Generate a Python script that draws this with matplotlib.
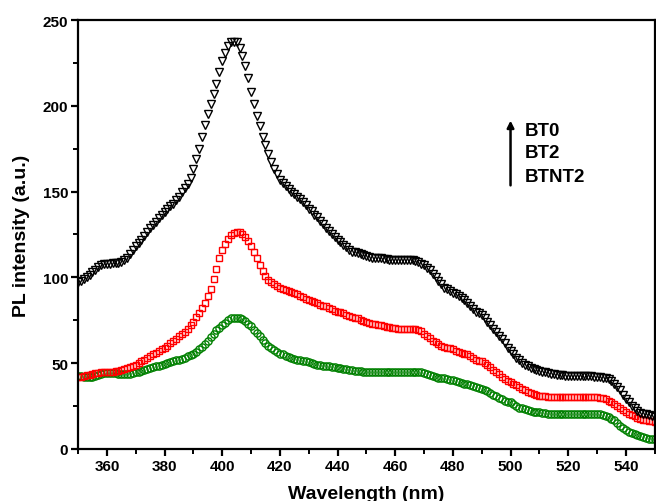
import numpy as np
import matplotlib.pyplot as plt
from matplotlib.ticker import MultipleLocator

plt.rcParams['font.family'] = ['Liberation Sans', 'DejaVu Sans']
plt.rcParams['font.weight'] = 'bold'

# wavelength axis, 1 nm step
wavelength = np.arange(350, 551)

# BT0 (black, down triangles)
bt0 = [97.5, 98, 99, 100, 101.5, 103, 104.5, 106, 107, 107.5,
       108, 108, 108.5, 108.5, 108.5, 109, 110, 111.5, 113.5, 116,
       118, 120, 122, 124, 126.5, 128.5, 130.5, 132.5, 134.5, 136.5,
       138, 140, 141.5, 143, 145, 147, 149.5, 152, 154.5, 158,
       163, 169, 175, 182, 189, 195, 201, 207, 213, 220,
       226, 231, 235, 237, 237.5, 237, 234, 229, 223, 216,
       208, 201, 194, 188, 182, 177, 172, 167, 163, 160,
       157, 155, 153, 151.5, 150, 148.5, 147, 145.5, 144, 142,
       140, 138.5, 136.5, 135, 133, 131, 129, 127, 125, 123.5,
       122, 120.5, 119, 117.5, 116, 115, 114.5, 114, 113.5, 113,
       112.5, 112, 111.5, 111.5, 111, 111, 110.5, 110.5, 110, 110,
       110, 110, 110, 110, 110, 110, 110, 109.5, 109, 108,
       107, 105.5, 104, 102, 100, 98, 96, 94, 93, 92,
       91, 90, 89, 88, 86.5, 85, 83, 81.5, 80, 79,
       78, 76, 74, 72, 70, 68, 66, 64, 61.5, 59,
       57, 55, 53, 51.5, 50, 49, 48, 47, 46.5, 46,
       45.5, 45, 44.5, 44, 43.5, 43.5, 43, 43, 43, 42.5,
       42.5, 42.5, 42.5, 42.5, 42.5, 42.5, 42.5, 42.5, 42.5, 42,
       42, 42, 41.5, 41, 40.5, 39.5, 38, 36, 34, 31.5,
       29, 27, 25, 23.5, 22, 21, 20.5, 20, 19.5, 19,
       18.5]

# BT2 (red, squares)
bt2 = [42, 42, 42.5, 43, 43, 43.5, 44, 44, 44.5, 44.5,
       45, 45, 45, 45.5, 45.5, 46, 46.5, 47, 47.5, 48,
       49, 50, 51, 52, 53, 54, 55, 56, 57, 58,
       59, 60, 61.5, 63, 64, 65.5, 67, 68, 70, 72,
       74, 77, 79, 82, 85, 89, 93, 99, 105, 111,
       116, 119.5, 122.5, 124.5, 126, 126.5, 126.5, 125.5, 123.5, 121,
       118, 114.5, 111, 107, 103.5, 100.5, 98.5, 97, 96, 95,
       94, 93, 92.5, 92, 91.5, 91, 90, 89, 88.5, 87.5,
       87, 86, 85.5, 85, 84, 83.5, 83, 82, 81.5, 80.5,
       80, 79.5, 79, 78, 77.5, 77, 76.5, 76, 75, 74.5,
       74, 73.5, 73, 72.5, 72, 72, 71.5, 71, 71, 70.5,
       70.5, 70, 70, 70, 70, 70, 70, 70, 69.5, 68.5,
       67, 66, 64.5, 63, 62, 61, 60, 59.5, 59, 58.5,
       58, 57, 56.5, 56, 55.5, 55, 54, 53, 52, 51,
       51, 50, 49, 47.5, 46, 45, 43.5, 42, 40.5, 39.5,
       39, 38, 37, 36, 35, 34, 33, 32.5, 32, 31.5,
       31, 30.5, 30.5, 30, 30, 30, 30, 30, 30, 30,
       30, 30, 30, 30, 30, 30, 30, 30, 30, 30,
       30, 29.5, 29.5, 29, 28, 27, 26, 25, 23.5, 22.5,
       21.5, 20.5, 19.5, 19, 18, 17.5, 17, 16.5, 16, 16,
       15.5]

# BTNT2 (green, circles)
btnt2 = [42.5, 42.5, 42, 42, 42, 42, 42.5, 43, 43.5, 44,
         44, 44, 44, 44, 43.5, 43.5, 43.5, 43.5, 43.5, 44,
         44.5, 45, 45.5, 46, 46.5, 47, 47.5, 48, 48.5, 49,
         49.5, 50, 50.5, 51, 51.5, 52, 52.5, 53, 54, 54.5,
         55.5, 56.5, 58, 59.5, 61, 63, 65, 67, 69, 70.5,
         72, 73.5, 75, 76, 76.5, 76.5, 76, 75.5, 74.5, 73,
         71.5, 69.5, 67.5, 65.5, 63.5, 61.5, 60, 58.5, 57.5, 56.5,
         55.5, 55, 54, 53.5, 53, 52.5, 52, 51.5, 51, 51,
         50.5, 50, 49.5, 49, 49, 48.5, 48, 48, 47.5, 47.5,
         47, 47, 46.5, 46.5, 46, 46, 45.5, 45.5, 45.5, 45,
         45, 45, 45, 44.5, 44.5, 44.5, 44.5, 44.5, 44.5, 44.5,
         44.5, 44.5, 44.5, 45, 45, 45, 45, 45, 44.5, 44.5,
         44, 43.5, 43, 42.5, 42, 41.5, 41, 41, 40.5, 40,
         40, 39.5, 39, 38.5, 38, 37.5, 37, 36.5, 36, 35.5,
         35, 34, 33.5, 32.5, 31.5, 30.5, 29.5, 29, 28, 27,
         27, 26, 25, 24, 23.5, 23, 22.5, 22, 21.5, 21.5,
         21.5, 21, 21, 20.5, 20.5, 20.5, 20, 20, 20, 20,
         20, 20, 20, 20, 20, 20, 20, 20, 20, 20,
         20, 20, 19.5, 19, 18.5, 17.5, 16.5, 15, 13.5, 12,
         11, 10, 9.5, 8.5, 8, 7.5, 7, 6.5, 6, 6,
         5.8]

fig = plt.figure(figsize=(6.56, 5.02), dpi=100)
ax = fig.add_axes([0.119, 0.104, 0.879, 0.854])

ax.plot(wavelength, btnt2, ls='none', marker='o', ms=5.2, mfc='none',
        mec='green', mew=1.0)
ax.plot(wavelength, bt2, ls='none', marker='s', ms=5, mfc='none',
        mec='red', mew=1.0)
ax.plot(wavelength, bt0, ls='none', marker='v', ms=5.5, mfc='none',
        mec='black', mew=1.0)

ax.set_xlim(350, 550)
ax.set_ylim(0, 250)
ax.xaxis.set_major_locator(MultipleLocator(20))
ax.xaxis.set_minor_locator(MultipleLocator(10))
ax.yaxis.set_major_locator(MultipleLocator(50))
ax.yaxis.set_minor_locator(MultipleLocator(25))

for s in ax.spines.values():
    s.set_linewidth(1.6)
ax.tick_params(which='major', direction='out', length=5, width=1.6,
               labelsize=11, pad=2, top=False, right=False)
ax.tick_params(which='minor', direction='out', length=3.5, width=1.4,
               top=False, right=False)
ax.set_xticks([360, 380, 400, 420, 440, 460, 480, 500, 520, 540])
for lab in ax.get_xticklabels() + ax.get_yticklabels():
    lab.set_fontweight('bold')

ax.set_xlabel('Wavelength (nm)', fontsize=14, fontweight='bold', labelpad=9)
ax.set_ylabel('PL intensity (a.u.)', fontsize=14, fontweight='bold', labelpad=9)

# arrow and sample labels
ax.annotate('', xy=(500, 193), xytext=(500, 152),
            arrowprops=dict(arrowstyle='-|>', color='black', lw=1.8,
                            mutation_scale=10))
ax.text(504.8, 185.5, 'BT0', fontsize=13.5, fontweight='bold', va='center')
ax.text(504.8, 172.5, 'BT2', fontsize=13.5, fontweight='bold', va='center')
ax.text(504.8, 159, 'BTNT2', fontsize=13.5, fontweight='bold', va='center')

fig.savefig('out.png', dpi=100)
